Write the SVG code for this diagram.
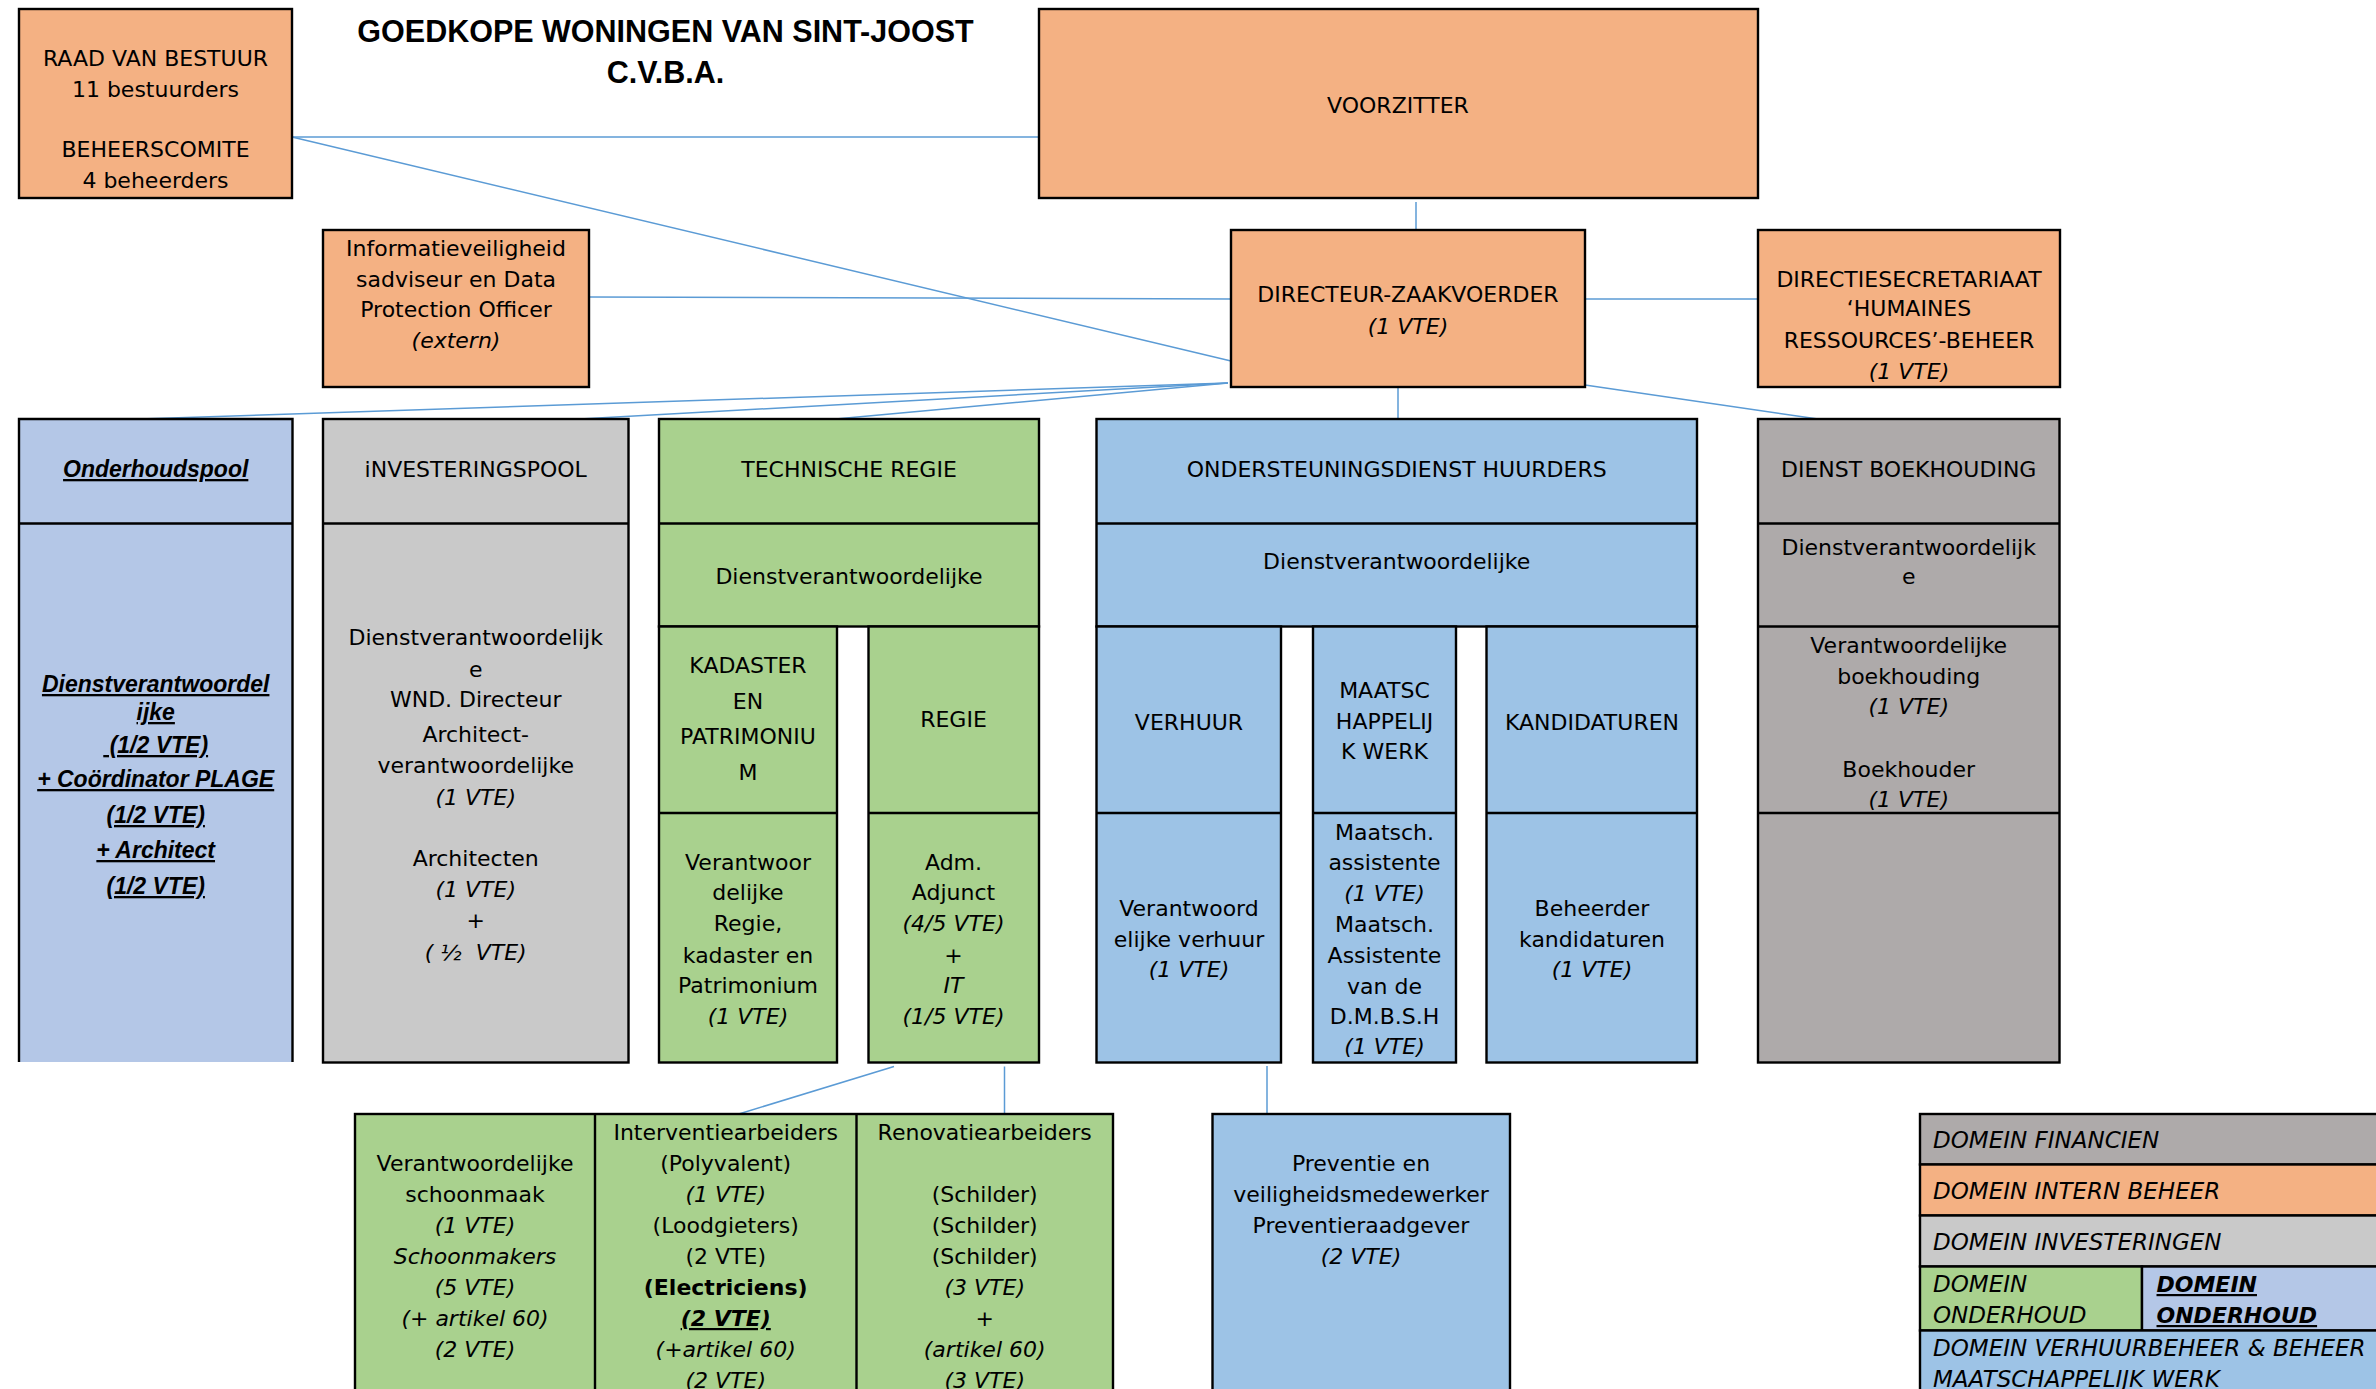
<svg xmlns="http://www.w3.org/2000/svg" width="2376" height="1389" viewBox="0 0 2376 1389">
<style>
.bx{stroke:#000;stroke-width:2.4}
.nb{stroke:none}
.ln{stroke:#000;stroke-width:2.4;fill:none}
.or{fill:#F4B183}
.lv{fill:#B4C7E7}
.lg{fill:#C9C9C9}
.gr{fill:#A9D18E}
.bl{fill:#9DC3E6}
.dg{fill:#AEAAAA}
text{font-family:"DejaVu Sans","Liberation Sans",sans-serif;font-size:22px;fill:#000;text-anchor:middle}
.i{font-style:italic}
.b{font-weight:bold}
.u{text-decoration:underline}
.ls{font-family:"Liberation Sans",Arial,sans-serif;font-size:23px}
.l{text-anchor:start}
.lgd{font-size:23px}
.title{font-family:"Liberation Sans",Arial,sans-serif;font-weight:bold;font-size:30.5px}
.conn line{stroke:#5B9BD5;stroke-width:1.5}
</style>

<g id="connectors" class="conn">
<line x1="292" y1="137" x2="1039" y2="137"/>
<line x1="292" y1="137" x2="1231" y2="361"/>
<line x1="1416" y1="202" x2="1416" y2="230"/>
<line x1="589" y1="297" x2="1231" y2="299"/>
<line x1="1585" y1="299" x2="1758" y2="299"/>
<line x1="1228" y1="383" x2="139.5" y2="419"/>
<line x1="1228" y1="383" x2="562" y2="420"/>
<line x1="1228" y1="383" x2="835.5" y2="419"/>
<line x1="1398" y1="383" x2="1398" y2="419"/>
<line x1="1585" y1="385" x2="1818" y2="419"/>
<line x1="1415.5" y1="494" x2="1415.5" y2="530"/>
<line x1="894" y1="1066.5" x2="735.5" y2="1115"/>
<line x1="1004.5" y1="1066.5" x2="1004.5" y2="1115"/>
<line x1="1267" y1="1066" x2="1267" y2="1116"/>
</g>

<text class="title" x="665.5" y="42">GOEDKOPE WONINGEN VAN SINT-JOOST</text>
<text class="title" x="665.5" y="83">C.V.B.A.</text>

<g id="raad">
<rect class="bx or" x="19" y="9" width="273" height="189"/>
<text x="155.5" y="66">RAAD VAN BESTUUR</text>
<text x="155.5" y="96.5">11 bestuurders</text>
<text x="155.5" y="157">BEHEERSCOMITE</text>
<text x="155.5" y="188">4 beheerders</text>
</g>

<g id="voorzitter">
<rect class="bx or" x="1039" y="9" width="719" height="189"/>
<text x="1398" y="113">VOORZITTER</text>
</g>

<g id="informatieveiligheid">
<rect class="bx or" x="323" y="230" width="266" height="157"/>
<text x="456" y="256">Informatieveiligheid</text>
<text x="456" y="287">sadviseur en Data</text>
<text x="456" y="317">Protection Officer</text>
<text class="i" x="456" y="348">(extern)</text>
</g>

<g id="directeur">
<rect class="bx or" x="1231" y="230" width="354" height="157"/>
<text x="1408" y="301.5">DIRECTEUR-ZAAKVOERDER</text>
<text class="i" x="1408" y="334">(1 VTE)</text>
</g>

<g id="directiesecretariaat">
<rect class="bx or" x="1758" y="230" width="302" height="157"/>
<text x="1909" y="287">DIRECTIESECRETARIAAT</text>
<text x="1909" y="316">‘HUMAINES</text>
<text x="1909" y="348">RESSOURCES’-BEHEER</text>
<text class="i" x="1909" y="379">(1 VTE)</text>
</g>

<g id="onderhoudspool">
<rect class="nb lv" x="19" y="419" width="273.5" height="643"/>
<path class="ln" d="M19,1062 V419 H292.5 V1062 M19,523.5 H292.5"/>
<text class="ls b i u" x="155.7" y="477">Onderhoudspool</text>
<text class="ls b i u" x="155.7" y="692">Dienstverantwoordel</text>
<text class="ls b i u" x="155.7" y="720">ijke</text>
<text class="ls b i u" x="155.7" y="753" xml:space="preserve"> (1/2 VTE)</text>
<text class="ls b i u" x="155.7" y="787">+ Coördinator PLAGE</text>
<text class="ls b i u" x="155.7" y="823">(1/2 VTE)</text>
<text class="ls b i u" x="155.7" y="858">+ Architect</text>
<text class="ls b i u" x="155.7" y="894">(1/2 VTE)</text>
</g>

<g id="investeringspool">
<rect class="bx lg" x="323" y="419" width="305.5" height="643.5"/>
<line class="ln" x1="323" y1="523.5" x2="628.5" y2="523.5"/>
<text x="475.7" y="477">iNVESTERINGSPOOL</text>
<text x="475.7" y="645">Dienstverantwoordelijk</text>
<text x="475.7" y="677">e</text>
<text x="475.7" y="707">WND. Directeur</text>
<text x="475.7" y="742">Architect-</text>
<text x="475.7" y="773">verantwoordelijke</text>
<text class="i" x="475.7" y="805">(1 VTE)</text>
<text x="475.7" y="866">Architecten</text>
<text class="i" x="475.7" y="897">(1 VTE)</text>
<text x="475.7" y="928">+</text>
<text class="i" x="475.7" y="960" xml:space="preserve">( ½  VTE)</text>
</g>

<g id="technische-regie">
<rect class="bx gr" x="659" y="419" width="380" height="207.5"/>
<line class="ln" x1="659" y1="523.5" x2="1039" y2="523.5"/>
<text x="849" y="477">TECHNISCHE REGIE</text>
<text x="849" y="584">Dienstverantwoordelijke</text>
</g>

<g id="kadaster">
<rect class="bx gr" x="659" y="626.5" width="178" height="436"/>
<line class="ln" x1="659" y1="813" x2="837" y2="813"/>
<text x="748" y="673">KADASTER</text>
<text x="748" y="708.5">EN</text>
<text x="748" y="744">PATRIMONIU</text>
<text x="748" y="779.5">M</text>
<text x="748" y="870">Verantwoor</text>
<text x="748" y="900">delijke</text>
<text x="748" y="931">Regie,</text>
<text x="748" y="963">kadaster en</text>
<text x="748" y="993">Patrimonium</text>
<text class="i" x="748" y="1024">(1 VTE)</text>
</g>

<g id="regie">
<rect class="bx gr" x="868.5" y="626.5" width="170.5" height="436"/>
<line class="ln" x1="868.5" y1="813" x2="1039" y2="813"/>
<text x="953.5" y="727">REGIE</text>
<text x="953.5" y="870">Adm.</text>
<text x="953.5" y="900">Adjunct</text>
<text class="i" x="953.5" y="931">(4/5 VTE)</text>
<text x="953.5" y="963">+</text>
<text class="i" x="953.5" y="993">IT</text>
<text class="i" x="953.5" y="1024">(1/5 VTE)</text>
</g>

<g id="ondersteuningsdienst">
<rect class="bx bl" x="1096.5" y="419" width="600.5" height="207.5"/>
<line class="ln" x1="1096.5" y1="523.5" x2="1697" y2="523.5"/>
<text x="1396.7" y="477">ONDERSTEUNINGSDIENST HUURDERS</text>
<text x="1396.7" y="569">Dienstverantwoordelijke</text>
</g>

<g id="verhuur">
<rect class="bx bl" x="1096.5" y="626.5" width="184.5" height="436"/>
<line class="ln" x1="1096.5" y1="813" x2="1281" y2="813"/>
<text x="1189" y="730">VERHUUR</text>
<text x="1189" y="916">Verantwoord</text>
<text x="1189" y="947">elijke verhuur</text>
<text class="i" x="1189" y="977">(1 VTE)</text>
</g>

<g id="maatschappelijk-werk">
<rect class="bx bl" x="1313" y="626.5" width="143" height="436"/>
<line class="ln" x1="1313" y1="813" x2="1456" y2="813"/>
<text x="1384.5" y="698">MAATSC</text>
<text x="1384.5" y="729">HAPPELIJ</text>
<text x="1384.5" y="759">K WERK</text>
<text x="1384.5" y="839.5">Maatsch.</text>
<text x="1384.5" y="870">assistente</text>
<text class="i" x="1384.5" y="901">(1 VTE)</text>
<text x="1384.5" y="931.5">Maatsch.</text>
<text x="1384.5" y="963">Assistente</text>
<text x="1384.5" y="993.5">van de</text>
<text x="1384.5" y="1024">D.M.B.S.H</text>
<text class="i" x="1384.5" y="1054">(1 VTE)</text>
</g>

<g id="kandidaturen">
<rect class="bx bl" x="1486.5" y="626.5" width="210.5" height="436"/>
<line class="ln" x1="1486.5" y1="813" x2="1697" y2="813"/>
<text x="1592" y="730">KANDIDATUREN</text>
<text x="1592" y="916">Beheerder</text>
<text x="1592" y="947">kandidaturen</text>
<text class="i" x="1592" y="977">(1 VTE)</text>
</g>

<g id="dienst-boekhouding">
<rect class="bx dg" x="1758" y="419" width="301.5" height="643.5"/>
<path class="ln" d="M1758,523.5 H2059.5 M1758,626.5 H2059.5 M1758,813 H2059.5"/>
<text x="1908.7" y="477">DIENST BOEKHOUDING</text>
<text x="1908.7" y="554.5">Dienstverantwoordelijk</text>
<text x="1908.7" y="583.5">e</text>
<text x="1908.7" y="653">Verantwoordelijke</text>
<text x="1908.7" y="683.5">boekhouding</text>
<text class="i" x="1908.7" y="714">(1 VTE)</text>
<text x="1908.7" y="776.5">Boekhouder</text>
<text class="i" x="1908.7" y="807">(1 VTE)</text>
</g>

<g id="arbeiders">
<rect class="bx gr" x="355" y="1114" width="758" height="290"/>
<path class="ln" d="M595,1114 V1404 M856.5,1114 V1404"/>
<text x="475" y="1171">Verantwoordelijke</text>
<text x="475" y="1202">schoonmaak</text>
<text class="i" x="475" y="1233">(1 VTE)</text>
<text class="i" x="475" y="1264">Schoonmakers</text>
<text class="i" x="475" y="1295">(5 VTE)</text>
<text class="i" x="475" y="1326">(+ artikel 60)</text>
<text class="i" x="475" y="1357">(2 VTE)</text>
<text x="725.7" y="1140">Interventiearbeiders</text>
<text x="725.7" y="1171">(Polyvalent)</text>
<text class="i" x="725.7" y="1202">(1 VTE)</text>
<text x="725.7" y="1233">(Loodgieters)</text>
<text x="725.7" y="1264">(2 VTE)</text>
<text class="b" x="725.7" y="1295">(Electriciens)</text>
<text class="b i u" x="725.7" y="1326">(2 VTE)</text>
<text class="i" x="725.7" y="1357">(+artikel 60)</text>
<text class="i" x="725.7" y="1388">(2 VTE)</text>
<text x="984.7" y="1140">Renovatiearbeiders</text>
<text x="984.7" y="1202">(Schilder)</text>
<text x="984.7" y="1233">(Schilder)</text>
<text x="984.7" y="1264">(Schilder)</text>
<text class="i" x="984.7" y="1295">(3 VTE)</text>
<text x="984.7" y="1326">+</text>
<text class="i" x="984.7" y="1357">(artikel 60)</text>
<text class="i" x="984.7" y="1388">(3 VTE)</text>
</g>

<g id="preventie">
<rect class="bx bl" x="1212.5" y="1114" width="297.5" height="290"/>
<text x="1361" y="1171">Preventie en</text>
<text x="1361" y="1202">veiligheidsmedewerker</text>
<text x="1361" y="1233">Preventieraadgever</text>
<text class="i" x="1361" y="1264">(2 VTE)</text>
</g>

<g id="legende">
<rect class="bx dg" x="1920" y="1114" width="470" height="50.5"/>
<rect class="bx or" x="1920" y="1164.5" width="470" height="51"/>
<rect class="bx lg" x="1920" y="1215.5" width="470" height="51"/>
<rect class="bx gr" x="1920" y="1266.5" width="222" height="64"/>
<rect class="bx lv" x="2142" y="1266.5" width="248" height="64"/>
<rect class="bx bl" x="1920" y="1330.5" width="470" height="80"/>
<text class="lgd i l" x="1933" y="1148">DOMEIN FINANCIEN</text>
<text class="lgd i l" x="1933" y="1199">DOMEIN INTERN BEHEER</text>
<text class="lgd i l" x="1933" y="1250">DOMEIN INVESTERINGEN</text>
<text class="lgd i l" x="1933" y="1292">DOMEIN</text>
<text class="lgd i l" x="1933" y="1323">ONDERHOUD</text>
<text class="b i u l" x="2156.5" y="1292">DOMEIN</text>
<text class="b i u l" x="2156.5" y="1323">ONDERHOUD</text>
<text class="lgd i l" x="1933" y="1355.5">DOMEIN VERHUURBEHEER &amp; BEHEER</text>
<text class="lgd i l" x="1933" y="1386.5">MAATSCHAPPELIJK WERK</text>
</g>
</svg>
